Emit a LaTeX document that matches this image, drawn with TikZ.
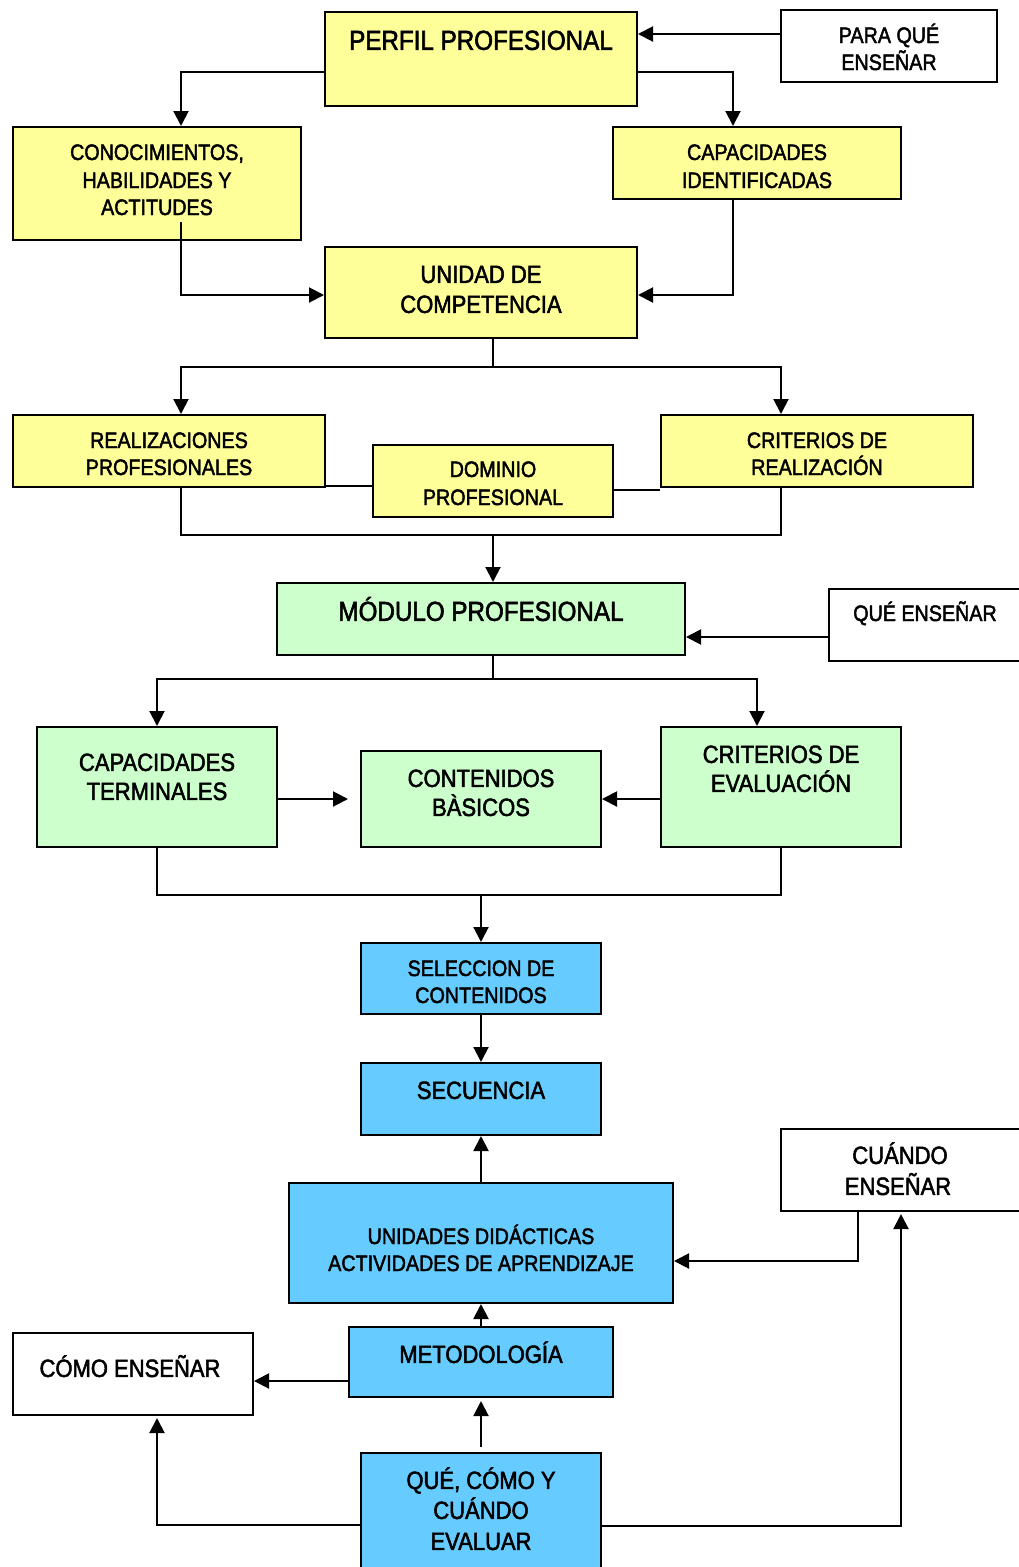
\documentclass[tikz,border=0pt]{standalone}
\usepackage{fontspec}
\setmainfont{Liberation Sans}[FakeStretch=0.88, FakeBold=2]
\usetikzlibrary{arrows.meta}
\definecolor{boxyellow}{HTML}{FFFF99}
\definecolor{boxgreen}{HTML}{CCFFCC}
\definecolor{boxblue}{HTML}{66CCFF}
\newcommand\sizeS{\fontsize{22.4}{27}\selectfont}
\newcommand\sizeM{\fontsize{25}{30}\selectfont}
\newcommand\sizeL{\fontsize{27.5}{33}\selectfont}
\tikzset{
  box/.style={draw=black, line width=2pt, inner sep=0pt, rectangle},
  ybox/.style={box, fill=boxyellow},
  gbox/.style={box, fill=boxgreen},
  bbox/.style={box, fill=boxblue},
  wbox/.style={box, fill=white},
  tS/.style={inner sep=0pt, anchor=center, font=\sizeS, text height=16pt, text depth=0pt},
  tM/.style={inner sep=0pt, anchor=center, font=\sizeM, text height=17.9pt, text depth=0pt},
  tL/.style={inner sep=0pt, anchor=center, font=\sizeL, text height=19.7pt, text depth=0pt},
  link/.style={draw=black, line width=2pt},
  arr/.style={link, -{Triangle[length=15pt, width=15pt]}},
}
\begin{document}
\begin{tikzpicture}[x=1pt, y=-1pt]
\useasboundingbox (0,0) rectangle (1019,1567);
\clip (0,0) rectangle (1019,1567);
\fill[white] (0,0) rectangle (1019,1567);

% --- boxes ---
\node[ybox, minimum width=312, minimum height=94] (perfil) at (481,59) {};
\node[wbox, minimum width=216, minimum height=72] (paraque) at (889,46) {};
\node[ybox, minimum width=288, minimum height=113] (conoc) at (157,183.5) {};
\node[ybox, minimum width=288, minimum height=72] (capid) at (757,163) {};
\node[ybox, minimum width=312, minimum height=91] (unidad) at (481,292.5) {};
\node[ybox, minimum width=312, minimum height=72] (realiz) at (169,451) {};
\node[ybox, minimum width=240, minimum height=72] (dominio) at (493,481) {};
\node[ybox, minimum width=312, minimum height=72] (critreal) at (817,451) {};
\node[gbox, minimum width=408, minimum height=72] (modulo) at (481,619) {};
\node[wbox, minimum width=211, minimum height=72] (queens) at (934.5,625) {};
\node[gbox, minimum width=240, minimum height=120] (capterm) at (157,787) {};
\node[gbox, minimum width=240, minimum height=96] (contenidos) at (481,799) {};
\node[gbox, minimum width=240, minimum height=120] (criteval) at (781,787) {};
\node[bbox, minimum width=240, minimum height=71] (seleccion) at (481,978.5) {};
\node[bbox, minimum width=240, minimum height=72] (secuencia) at (481,1099) {};
\node[wbox, minimum width=259, minimum height=82] (cuando) at (910.5,1170) {};
\node[bbox, minimum width=384, minimum height=120] (unidades) at (481,1243) {};
\node[wbox, minimum width=240, minimum height=82] (como) at (133,1374) {};
\node[bbox, minimum width=264, minimum height=70] (metod) at (481,1362) {};
\node[bbox, minimum width=240, minimum height=137] (evaluar) at (481,1521.5) {};

% --- texts ---
\node[tL] (perfil-t) at (481,40) {PERFIL PROFESIONAL};
\node[tS] (paraque-t1) at (889,35) {PARA QUÉ};
\node[tS] (paraque-t2) at (889,62) {ENSEÑAR};
\node[tS] (conoc-t1) at (157,152) {CONOCIMIENTOS,};
\node[tS] (conoc-t2) at (157,180) {HABILIDADES Y};
\node[tS] (conoc-t3) at (157,207) {ACTITUDES};
\node[tS] (capid-t1) at (757,152) {CAPACIDADES};
\node[tS] (capid-t2) at (757,180) {IDENTIFICADAS};
\node[tM] (unidad-t1) at (481,274) {UNIDAD DE};
\node[tM] (unidad-t2) at (481,304) {COMPETENCIA};
\node[tS] (realiz-t1) at (169,440) {REALIZACIONES};
\node[tS] (realiz-t2) at (169,467) {PROFESIONALES};
\node[tS] (dominio-t1) at (493,469) {DOMINIO};
\node[tS] (dominio-t2) at (493,497) {PROFESIONAL};
\node[tS] (critreal-t1) at (817,440) {CRITERIOS DE};
\node[tS] (critreal-t2) at (817,467) {REALIZACIÓN};
\node[tL] (modulo-t) at (481,611) {MÓDULO PROFESIONAL};
\node[tS] (queens-t) at (925,613) {QUÉ ENSEÑAR};
\node[tM] (capterm-t1) at (157,762) {CAPACIDADES};
\node[tM] (capterm-t2) at (157,791) {TERMINALES};
\node[tM] (contenidos-t1) at (481,778) {CONTENIDOS};
\node[tM] (contenidos-t2) at (481,807) {BÀSICOS};
\node[tM] (criteval-t1) at (781,754) {CRITERIOS DE};
\node[tM] (criteval-t2) at (781,783) {EVALUACIÓN};
\node[tS] (seleccion-t1) at (481,968) {SELECCION DE};
\node[tS] (seleccion-t2) at (481,995) {CONTENIDOS};
\node[tM] (secuencia-t) at (481,1090) {SECUENCIA};
\node[tM] (cuando-t1) at (900,1155) {CUÁNDO};
\node[tM] (cuando-t2) at (898,1186) {ENSEÑAR};
\node[tS] (unidades-t1) at (481,1236) {UNIDADES DIDÁCTICAS};
\node[tS] (unidades-t2) at (481,1263) {ACTIVIDADES DE APRENDIZAJE};
\node[tM] (metod-t) at (481,1354) {METODOLOGÍA};
\node[tM] (como-t) at (130,1368) {CÓMO ENSEÑAR};
\node[tM] (evaluar-t1) at (481,1480) {QUÉ, CÓMO Y};
\node[tM] (evaluar-t2) at (481,1510) {CUÁNDO};
\node[tM] (evaluar-t3) at (481,1541) {EVALUAR};

% --- connectors ---
\draw[arr] (paraque.west |- 0,34) -- (perfil.east |- 0,34);
\draw[arr] (perfil.west |- 0,72) -| (181,0 |- conoc.north);
\draw[arr] (perfil.east |- 0,72) -| (733,0 |- capid.north);
\coordinate (conocstem) at (181,222);
\draw[arr] (conocstem) |- (unidad.west |- 0,295);
\draw[arr] (733,0 |- capid.south) |- (unidad.east |- 0,295);

\coordinate (split1) at (493,367);
\draw[link] (493,0 |- unidad.south) -- (split1);
\draw[arr] (split1) -| (181,0 |- realiz.north);
\draw[arr] (split1) -| (781,0 |- critreal.north);
\draw[link] (realiz.east |- 0,486) -- (dominio.west |- 0,486);
\draw[link] (dominio.east |- 0,490) -- (critreal.west |- 0,490);
\coordinate (join1) at (493,535);
\draw[link] (181,0 |- realiz.south) |- (781,535) -- (781,0 |- critreal.south);
\draw[arr] (join1) -- (493,0 |- modulo.north);

\draw[arr] (queens.west |- 0,637) -- (modulo.east |- 0,637);
\coordinate (split2) at (493,679);
\draw[link] (493,0 |- modulo.south) -- (split2);
\draw[arr] (split2) -| (capterm.north);
\draw[arr] (split2) -| (757,0 |- criteval.north);
\draw[arr, shorten >=12pt] (capterm.east |- 0,799) -- (contenidos.west |- 0,799);
\draw[arr] (criteval.west |- 0,799) -- (contenidos.east |- 0,799);
\coordinate (join2) at (481,895);
\draw[link] (capterm.south) |- (criteval.south |- join2) -- (criteval.south);
\draw[arr] (join2) -- (seleccion.north);

\draw[arr] (seleccion.south) -- (secuencia.north);
\draw[arr] (unidades.north) -- (secuencia.south);
\draw[arr] (858,0 |- cuando.south) |- (unidades.east |- 0,1261);
\draw[arr] (metod.north) -- (unidades.south);
\draw[arr] (metod.west |- 0,1381) -- (como.east |- 0,1381);
\draw[arr, shorten <=5pt, shorten >=3pt] (evaluar.north) -- (metod.south);
\draw[arr, shorten >=2pt] (evaluar.west |- 0,1525) -| (157,0 |- como.south);
\draw[arr, shorten >=2pt] (evaluar.east |- 0,1526) -| (901,0 |- cuando.south);
\end{tikzpicture}
\end{document}
